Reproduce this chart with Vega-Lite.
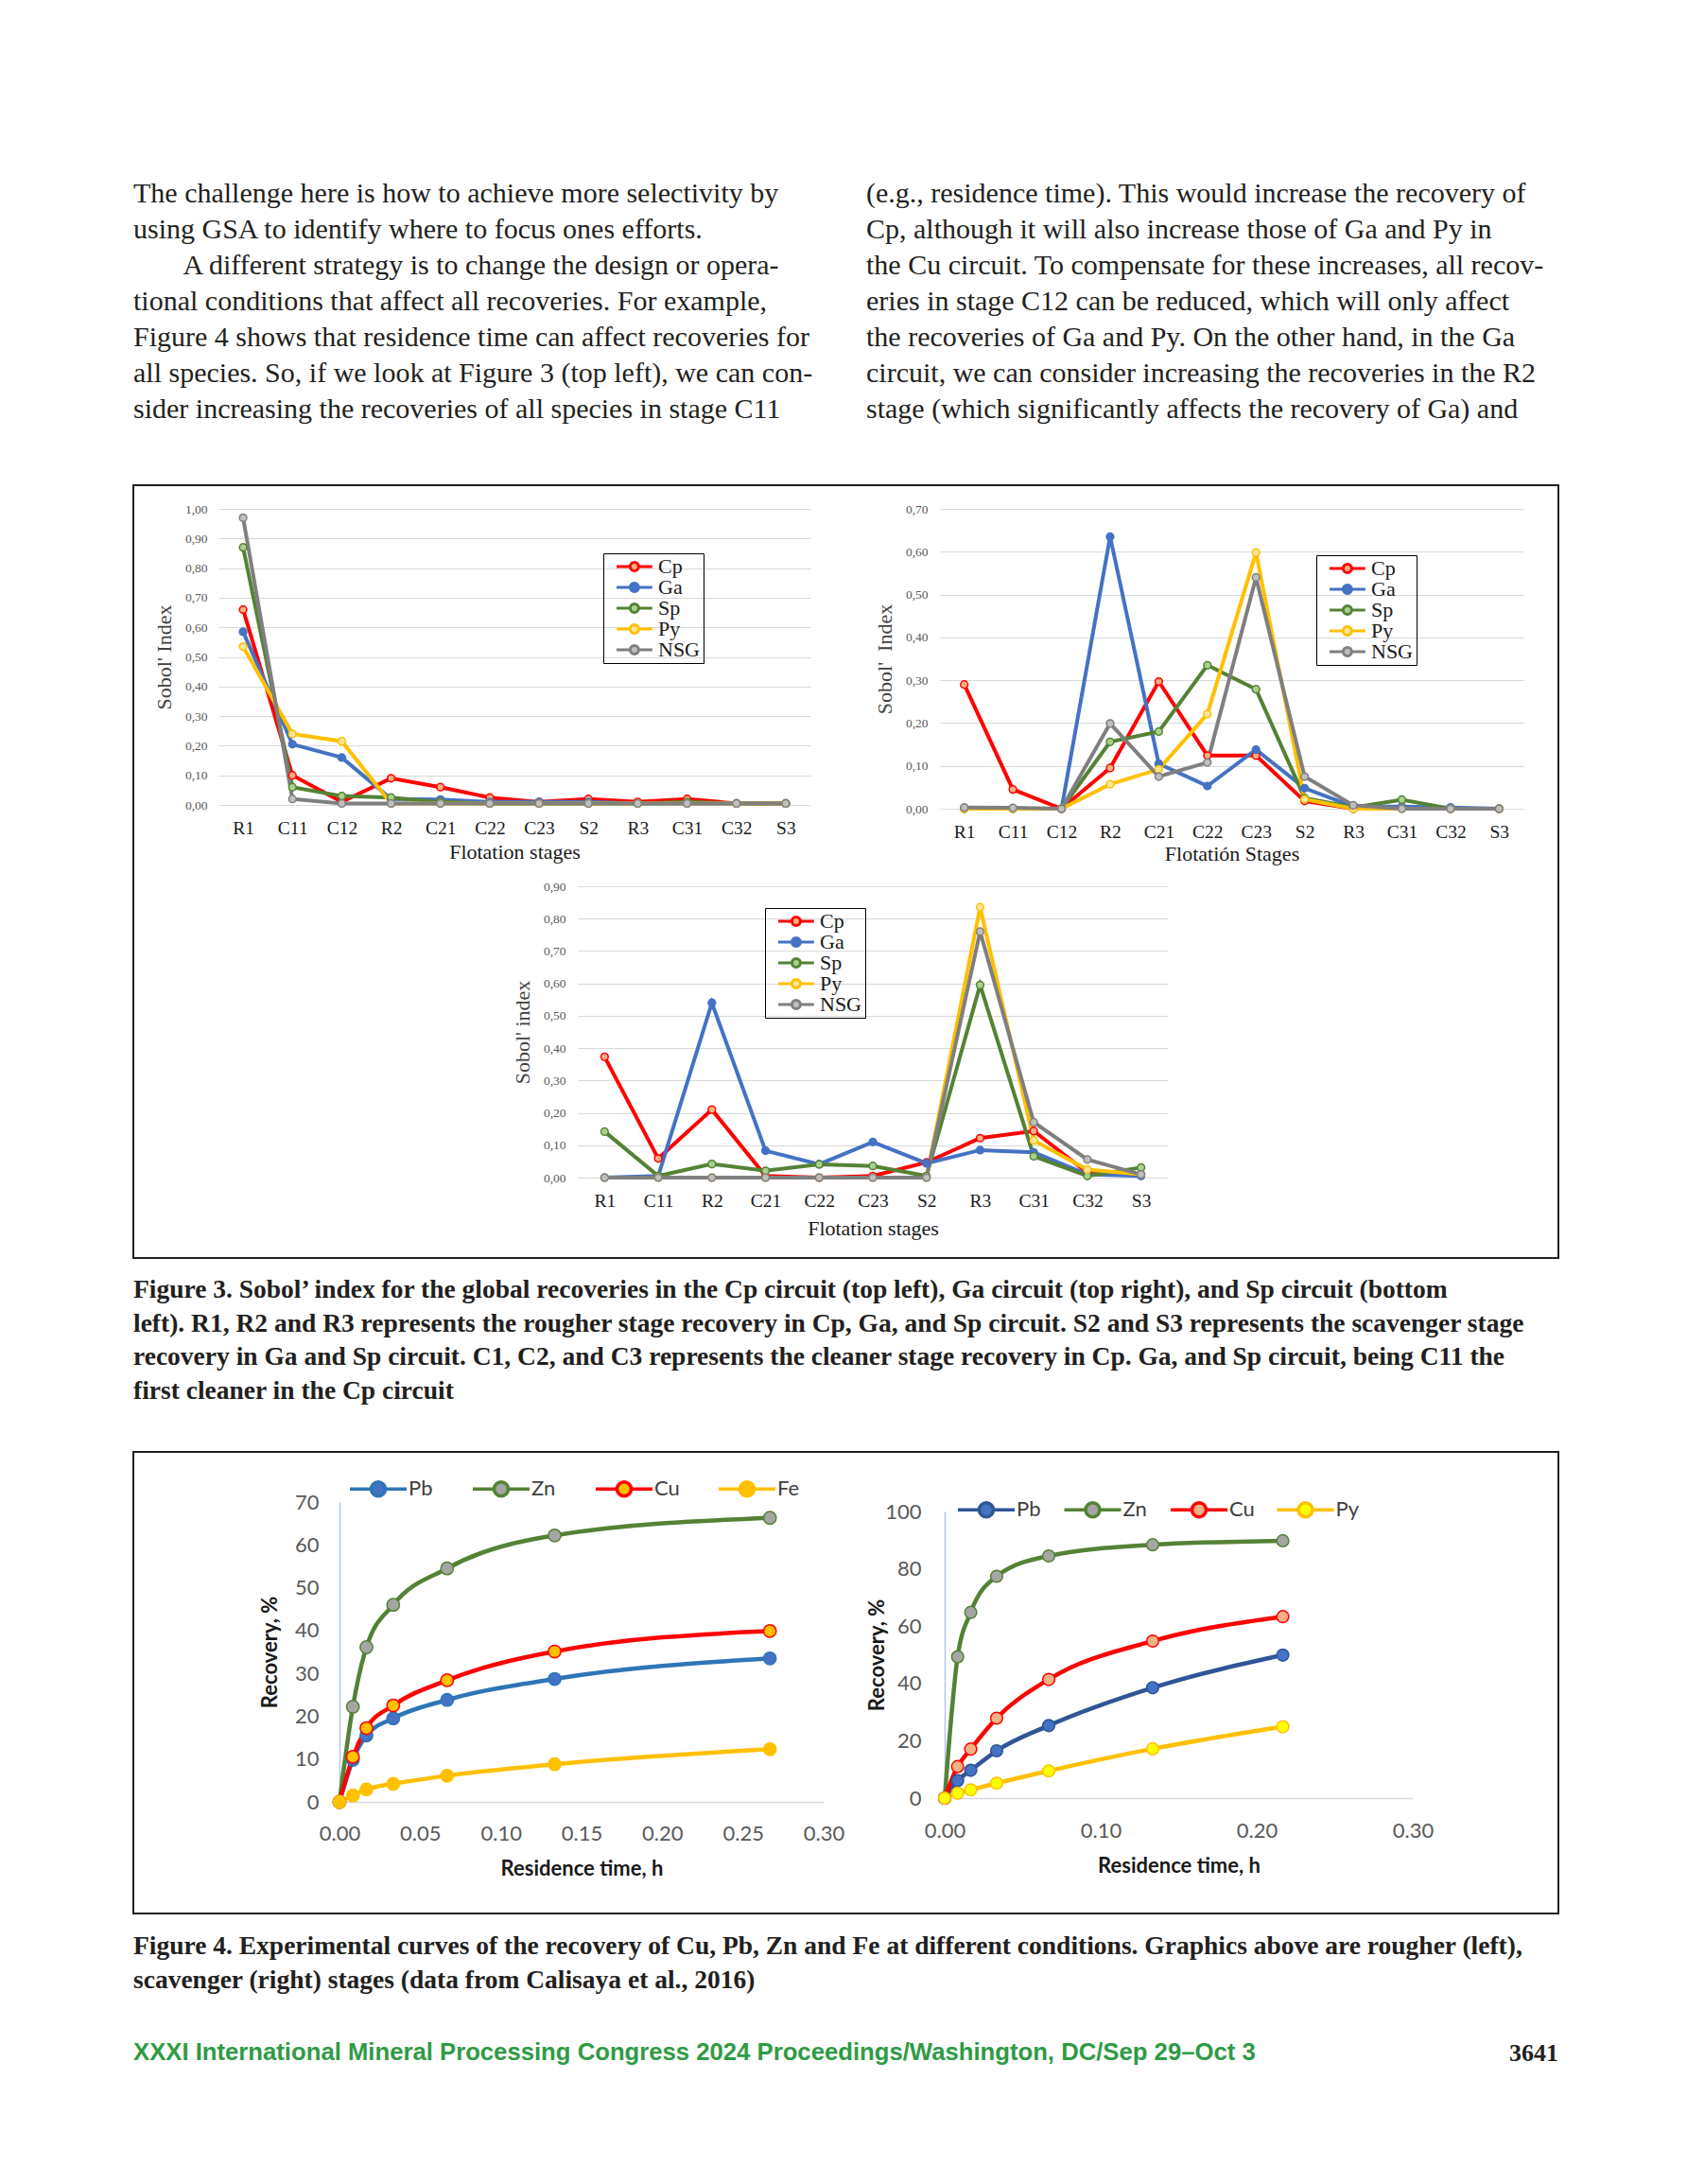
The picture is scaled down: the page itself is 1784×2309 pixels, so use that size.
{
  "$schema": "https://vega.github.io/schema/vega-lite/v6.json",
  "background": "white",
  "padding": {"left": 140, "top": 190, "right": 0, "bottom": 0},
  "spacing": 49,
  "datasets": {
    "tl": [
      {"s":"R1","k":"Cp","v":0.66},{"s":"C11","k":"Cp","v":0.10},{"s":"C12","k":"Cp","v":0.01},{"s":"R2","k":"Cp","v":0.09},{"s":"C21","k":"Cp","v":0.06},{"s":"C22","k":"Cp","v":0.025},{"s":"C23","k":"Cp","v":0.01},{"s":"S2","k":"Cp","v":0.02},{"s":"R3","k":"Cp","v":0.01},{"s":"C31","k":"Cp","v":0.02},{"s":"C32","k":"Cp","v":0.005},{"s":"S3","k":"Cp","v":0.005},
      {"s":"R1","k":"Ga","v":0.585},{"s":"C11","k":"Ga","v":0.205},{"s":"C12","k":"Ga","v":0.16},{"s":"R2","k":"Ga","v":0.02},{"s":"C21","k":"Ga","v":0.018},{"s":"C22","k":"Ga","v":0.01},{"s":"C23","k":"Ga","v":0.01},{"s":"S2","k":"Ga","v":0.01},{"s":"R3","k":"Ga","v":0.005},{"s":"C31","k":"Ga","v":0.005},{"s":"C32","k":"Ga","v":0.005},{"s":"S3","k":"Ga","v":0.005},
      {"s":"R1","k":"Sp","v":0.87},{"s":"C11","k":"Sp","v":0.06},{"s":"C12","k":"Sp","v":0.03},{"s":"R2","k":"Sp","v":0.025},{"s":"C21","k":"Sp","v":0.01},{"s":"C22","k":"Sp","v":0.005},{"s":"C23","k":"Sp","v":0.005},{"s":"S2","k":"Sp","v":0.005},{"s":"R3","k":"Sp","v":0.005},{"s":"C31","k":"Sp","v":0.01},{"s":"C32","k":"Sp","v":0.005},{"s":"S3","k":"Sp","v":0.005},
      {"s":"R1","k":"Py","v":0.535},{"s":"C11","k":"Py","v":0.24},{"s":"C12","k":"Py","v":0.215},{"s":"R2","k":"Py","v":0.005},{"s":"C21","k":"Py","v":0.005},{"s":"C22","k":"Py","v":0.005},{"s":"C23","k":"Py","v":0.005},{"s":"S2","k":"Py","v":0.005},{"s":"R3","k":"Py","v":0.005},{"s":"C31","k":"Py","v":0.005},{"s":"C32","k":"Py","v":0.005},{"s":"S3","k":"Py","v":0.005},
      {"s":"R1","k":"NSG","v":0.97},{"s":"C11","k":"NSG","v":0.02},{"s":"C12","k":"NSG","v":0.005},{"s":"R2","k":"NSG","v":0.005},{"s":"C21","k":"NSG","v":0.005},{"s":"C22","k":"NSG","v":0.005},{"s":"C23","k":"NSG","v":0.005},{"s":"S2","k":"NSG","v":0.005},{"s":"R3","k":"NSG","v":0.005},{"s":"C31","k":"NSG","v":0.005},{"s":"C32","k":"NSG","v":0.005},{"s":"S3","k":"NSG","v":0.005}
    ],
    "tr": [
      {"s":"R1","k":"Cp","v":0.29},{"s":"C11","k":"Cp","v":0.045},{"s":"C12","k":"Cp","v":0.0},{"s":"R2","k":"Cp","v":0.095},{"s":"C21","k":"Cp","v":0.297},{"s":"C22","k":"Cp","v":0.124},{"s":"C23","k":"Cp","v":0.124},{"s":"S2","k":"Cp","v":0.018},{"s":"R3","k":"Cp","v":0.0},{"s":"C31","k":"Cp","v":0.003},{"s":"C32","k":"Cp","v":0.0},{"s":"S3","k":"Cp","v":0.0},
      {"s":"R1","k":"Ga","v":0.0},{"s":"C11","k":"Ga","v":0.0},{"s":"C12","k":"Ga","v":0.0},{"s":"R2","k":"Ga","v":0.635},{"s":"C21","k":"Ga","v":0.105},{"s":"C22","k":"Ga","v":0.053},{"s":"C23","k":"Ga","v":0.138},{"s":"S2","k":"Ga","v":0.048},{"s":"R3","k":"Ga","v":0.005},{"s":"C31","k":"Ga","v":0.005},{"s":"C32","k":"Ga","v":0.003},{"s":"S3","k":"Ga","v":0.0},
      {"s":"R1","k":"Sp","v":0.0},{"s":"C11","k":"Sp","v":0.0},{"s":"C12","k":"Sp","v":0.0},{"s":"R2","k":"Sp","v":0.156},{"s":"C21","k":"Sp","v":0.18},{"s":"C22","k":"Sp","v":0.335},{"s":"C23","k":"Sp","v":0.279},{"s":"S2","k":"Sp","v":0.025},{"s":"R3","k":"Sp","v":0.003},{"s":"C31","k":"Sp","v":0.021},{"s":"C32","k":"Sp","v":0.0},{"s":"S3","k":"Sp","v":0.0},
      {"s":"R1","k":"Py","v":0.0},{"s":"C11","k":"Py","v":0.0},{"s":"C12","k":"Py","v":0.0},{"s":"R2","k":"Py","v":0.057},{"s":"C21","k":"Py","v":0.092},{"s":"C22","k":"Py","v":0.221},{"s":"C23","k":"Py","v":0.598},{"s":"S2","k":"Py","v":0.022},{"s":"R3","k":"Py","v":0.0},{"s":"C31","k":"Py","v":0.0},{"s":"C32","k":"Py","v":0.0},{"s":"S3","k":"Py","v":0.0},
      {"s":"R1","k":"NSG","v":0.003},{"s":"C11","k":"NSG","v":0.002},{"s":"C12","k":"NSG","v":0.0},{"s":"R2","k":"NSG","v":0.199},{"s":"C21","k":"NSG","v":0.075},{"s":"C22","k":"NSG","v":0.108},{"s":"C23","k":"NSG","v":0.54},{"s":"S2","k":"NSG","v":0.075},{"s":"R3","k":"NSG","v":0.008},{"s":"C31","k":"NSG","v":0.0},{"s":"C32","k":"NSG","v":0.0},{"s":"S3","k":"NSG","v":0.0}
    ],
    "bot": [
      {"s":"R1","k":"Cp","v":0.373},{"s":"C11","k":"Cp","v":0.059},{"s":"R2","k":"Cp","v":0.21},{"s":"C21","k":"Cp","v":0.005},{"s":"C22","k":"Cp","v":0.0},{"s":"C23","k":"Cp","v":0.005},{"s":"S2","k":"Cp","v":0.047},{"s":"R3","k":"Cp","v":0.122},{"s":"C31","k":"Cp","v":0.144},{"s":"C32","k":"Cp","v":0.015},{"s":"S3","k":"Cp","v":0.01},
      {"s":"R1","k":"Ga","v":0.0},{"s":"C11","k":"Ga","v":0.005},{"s":"R2","k":"Ga","v":0.54},{"s":"C21","k":"Ga","v":0.083},{"s":"C22","k":"Ga","v":0.041},{"s":"C23","k":"Ga","v":0.11},{"s":"S2","k":"Ga","v":0.044},{"s":"R3","k":"Ga","v":0.085},{"s":"C31","k":"Ga","v":0.078},{"s":"C32","k":"Ga","v":0.01},{"s":"S3","k":"Ga","v":0.005},
      {"s":"R1","k":"Sp","v":0.142},{"s":"C11","k":"Sp","v":0.005},{"s":"R2","k":"Sp","v":0.042},{"s":"C21","k":"Sp","v":0.021},{"s":"C22","k":"Sp","v":0.041},{"s":"C23","k":"Sp","v":0.036},{"s":"S2","k":"Sp","v":0.005},{"s":"R3","k":"Sp","v":0.595},{"s":"C31","k":"Sp","v":0.066},{"s":"C32","k":"Sp","v":0.005},{"s":"S3","k":"Sp","v":0.031},
      {"s":"R1","k":"Py","v":0.0},{"s":"C11","k":"Py","v":0.0},{"s":"R2","k":"Py","v":0.0},{"s":"C21","k":"Py","v":0.0},{"s":"C22","k":"Py","v":0.0},{"s":"C23","k":"Py","v":0.0},{"s":"S2","k":"Py","v":0.0},{"s":"R3","k":"Py","v":0.835},{"s":"C31","k":"Py","v":0.115},{"s":"C32","k":"Py","v":0.025},{"s":"S3","k":"Py","v":0.01},
      {"s":"R1","k":"NSG","v":0.0},{"s":"C11","k":"NSG","v":0.0},{"s":"R2","k":"NSG","v":0.0},{"s":"C21","k":"NSG","v":0.0},{"s":"C22","k":"NSG","v":0.0},{"s":"C23","k":"NSG","v":0.0},{"s":"S2","k":"NSG","v":0.0},{"s":"R3","k":"NSG","v":0.76},{"s":"C31","k":"NSG","v":0.171},{"s":"C32","k":"NSG","v":0.056},{"s":"S3","k":"NSG","v":0.01}
    ],
    "f4l": [
      {"t":0,"k":"Pb","r":0},{"t":0.0083,"k":"Pb","r":9.8},{"t":0.0167,"k":"Pb","r":15.5},{"t":0.0333,"k":"Pb","r":19.5},{"t":0.0667,"k":"Pb","r":23.8},{"t":0.1333,"k":"Pb","r":28.7},{"t":0.2667,"k":"Pb","r":33.5},
      {"t":0,"k":"Zn","r":0},{"t":0.0083,"k":"Zn","r":22.2},{"t":0.0167,"k":"Zn","r":36.1},{"t":0.0333,"k":"Zn","r":46.0},{"t":0.0667,"k":"Zn","r":54.5},{"t":0.1333,"k":"Zn","r":62.2},{"t":0.2667,"k":"Zn","r":66.3},
      {"t":0,"k":"Cu","r":0},{"t":0.0083,"k":"Cu","r":10.5},{"t":0.0167,"k":"Cu","r":17.2},{"t":0.0333,"k":"Cu","r":22.5},{"t":0.0667,"k":"Cu","r":28.4},{"t":0.1333,"k":"Cu","r":35.1},{"t":0.2667,"k":"Cu","r":39.9},
      {"t":0,"k":"Fe","r":0},{"t":0.0083,"k":"Fe","r":1.5},{"t":0.0167,"k":"Fe","r":2.9},{"t":0.0333,"k":"Fe","r":4.2},{"t":0.0667,"k":"Fe","r":6.1},{"t":0.1333,"k":"Fe","r":8.8},{"t":0.2667,"k":"Fe","r":12.3}
    ],
    "f4r": [
      {"t":0,"k":"Pb","r":0},{"t":0.0083,"k":"Pb","r":6.1},{"t":0.0167,"k":"Pb","r":9.7},{"t":0.0333,"k":"Pb","r":16.5},{"t":0.0667,"k":"Pb","r":25.3},{"t":0.1333,"k":"Pb","r":38.5},{"t":0.2167,"k":"Pb","r":49.9},
      {"t":0,"k":"Zn","r":0},{"t":0.0083,"k":"Zn","r":49.3},{"t":0.0167,"k":"Zn","r":64.8},{"t":0.0333,"k":"Zn","r":77.4},{"t":0.0667,"k":"Zn","r":84.5},{"t":0.1333,"k":"Zn","r":88.4},{"t":0.2167,"k":"Zn","r":89.8},
      {"t":0,"k":"Cu","r":0},{"t":0.0083,"k":"Cu","r":11.0},{"t":0.0167,"k":"Cu","r":17.1},{"t":0.0333,"k":"Cu","r":27.9},{"t":0.0667,"k":"Cu","r":41.4},{"t":0.1333,"k":"Cu","r":54.8},{"t":0.2167,"k":"Cu","r":63.3},
      {"t":0,"k":"Py","r":0},{"t":0.0083,"k":"Py","r":1.7},{"t":0.0167,"k":"Py","r":2.9},{"t":0.0333,"k":"Py","r":5.2},{"t":0.0667,"k":"Py","r":9.5},{"t":0.1333,"k":"Py","r":17.2},{"t":0.2167,"k":"Py","r":24.9}
    ]
  },
  "vconcat": [
    {
      "spacing": 45,
      "hconcat": [
        {
          "width": 730, "height": 15,
          "data": {"values": []},
          "mark": "rule",
          "encoding": {},
          "title": {
            "text": [
              "The challenge here is how to achieve more selectivity by",
              "using GSA to identify where to focus ones efforts.",
              "\u200b\u00a0\u00a0\u00a0\u00a0\u00a0\u00a0\u00a0A different strategy is to change the design or opera-",
              "tional conditions that affect all recoveries. For example,",
              "Figure 4 shows that residence time can affect recoveries for",
              "all species. So, if we look at Figure 3 (top left), we can con-",
              "sider increasing the recoveries of all species in stage C11"
            ],
            "anchor": "start", "frame": "group", "orient": "top", "offset": 0,
            "font": "Liberation Serif", "fontSize": 30, "fontWeight": "normal",
            "color": "#231F20", "lineHeight": 38
          }
        },
        {
          "width": 730, "height": 15,
          "data": {"values": []},
          "mark": "rule",
          "encoding": {},
          "title": {
            "text": [
              "(e.g., residence time). This would increase the recovery of",
              "Cp, although it will also increase those of Ga and Py in",
              "the Cu circuit. To compensate for these increases, all recov-",
              "eries in stage C12 can be reduced, which will only affect",
              "the recoveries of Ga and Py. On the other hand, in the Ga",
              "circuit, we can consider increasing the recoveries in the R2",
              "stage (which significantly affects the recovery of Ga) and"
            ],
            "anchor": "start", "frame": "group", "orient": "top", "offset": 0,
            "font": "Liberation Serif", "fontSize": 30, "fontWeight": "normal",
            "color": "#231F20", "lineHeight": 38
          }
        }
      ]
    },
    {
      "width": 1507, "height": 817,
      "view": {"stroke": "#231F20", "strokeWidth": 2},
      "title": {
        "text": [
          "Figure 3. Sobol\u2019 index for the global recoveries in the Cp circuit (top left), Ga circuit (top right), and Sp circuit (bottom",
          "left). R1, R2 and R3 represents the rougher stage recovery in Cp, Ga, and Sp circuit. S2 and S3 represents the scavenger stage",
          "recovery in Ga and Sp circuit. C1, C2, and C3 represents the cleaner stage recovery in Cp. Ga, and Sp circuit, being C11 the",
          "first cleaner in the Cp circuit"
        ],
        "orient": "bottom", "anchor": "start", "frame": "group", "offset": 20, "baseline": "top",
        "font": "Liberation Serif", "fontSize": 27.5, "fontWeight": "bold", "color": "#231F20", "lineHeight": 35.5
      },
      "resolve": {
        "scale": {"x": "independent", "y": "independent", "stroke": "independent", "fill": "independent"},
        "axis": {"x": "independent", "y": "independent"},
        "legend": {"stroke": "independent", "fill": "independent"}
      },
      "layer": [
        {
          "data": {"name": "tl"},
          "encoding": {
            "x": {"field": "s", "type": "ordinal", "sort": ["R1","C11","C12","R2","C21","C22","C23","S2","R3","C31","C32","S3"],
              "scale": {"type": "point", "range": [90, 716], "padding": 0.5},
              "axis": {"orient": "bottom", "offset": -479, "labelAngle": 0, "labelFont": "Liberation Serif", "labelFontSize": 19.5, "labelColor": "#1A1A1A", "labelPadding": 15,
                "title": "Flotation stages", "titleFont": "Liberation Serif", "titleFontSize": 22, "titleFontWeight": "normal", "titleColor": "#1A1A1A", "titlePadding": 6}},
            "y": {"field": "v", "type": "quantitative",
              "scale": {"domain": [0, 1], "range": [338, 25], "nice": false},
              "axis": {"orient": "left", "offset": -90, "values": [0,0.1,0.2,0.3,0.4,0.5,0.6,0.7,0.8,0.9,1.0],
                "labelExpr": "replace(format(datum.value, '.2f'), '.', ',')",
                "labelFont": "Liberation Serif", "labelFontSize": 13.5, "labelColor": "#595959", "labelPadding": 12,
                "grid": true, "gridColor": "#D9D9D9", "gridWidth": 1,
                "title": "Sobol' Index", "titleFont": "Liberation Serif", "titleFontSize": 22, "titleFontWeight": "normal", "titleColor": "#404040", "titlePadding": 10}}
          },
          "layer": [
            {"mark": {"type": "line", "strokeWidth": 4},
             "encoding": {"stroke": {"field": "k", "type": "nominal", "scale": {"domain": ["Cp","Ga","Sp","Py","NSG"], "range": ["#FF0000","#4472C4","#548235","#FFC000","#7F7F7F"]},
               "legend": {"orient": "none", "legendX": 497, "legendY": 72, "title": null, "direction": "vertical", "symbolType": "M0,0H3.2M5.2,0H8.4M5.2,0A1,1,0,1,1,3.2,0A1,1,0,1,1,5.2,0Z", "symbolSize": 81, "symbolStrokeWidth": 3, "labelFont": "Liberation Serif", "labelFontSize": 22, "labelColor": "#1A1A1A", "labelOffset": 33, "rowPadding": 0, "padding": 3, "strokeColor": "#000000"}}}},
            {"mark": {"type": "circle", "size": 60, "strokeWidth": 1.5, "opacity": 1},
             "encoding": {
               "stroke": {"field": "k", "type": "nominal", "scale": {"domain": ["Cp","Ga","Sp","Py","NSG"], "range": ["#FF0000","#4472C4","#548235","#FFC000","#7F7F7F"]},
                 "legend": {"orient": "none", "legendX": 497, "legendY": 72, "title": null, "direction": "vertical", "symbolType": "M0,0H3.2M5.2,0H8.4M5.2,0A1,1,0,1,1,3.2,0A1,1,0,1,1,5.2,0Z", "symbolSize": 81, "symbolStrokeWidth": 3, "labelFont": "Liberation Serif", "labelFontSize": 22, "labelColor": "#1A1A1A", "labelOffset": 33, "rowPadding": 0, "padding": 3, "strokeColor": "#000000"}},
               "fill": {"field": "k", "type": "nominal", "scale": {"domain": ["Cp","Ga","Sp","Py","NSG"], "range": ["#F4B183","#4472C4","#A9D18E","#FFE699","#BFBFBF"]},
                 "legend": {"orient": "none", "legendX": 497, "legendY": 72, "title": null, "direction": "vertical", "symbolType": "M0,0H3.2M5.2,0H8.4M5.2,0A1,1,0,1,1,3.2,0A1,1,0,1,1,5.2,0Z", "symbolSize": 81, "symbolStrokeWidth": 3, "labelFont": "Liberation Serif", "labelFontSize": 22, "labelColor": "#1A1A1A", "labelOffset": 33, "rowPadding": 0, "padding": 3, "strokeColor": "#000000"}}
             }}
          ]
        },
        {
          "data": {"name": "tr"},
          "encoding": {
            "x": {"field": "s", "type": "ordinal", "sort": ["R1","C11","C12","R2","C21","C22","C23","S2","R3","C31","C32","S3"],
              "scale": {"type": "point", "range": [853, 1470], "padding": 0.5},
              "axis": {"orient": "bottom", "offset": -475, "labelAngle": 0, "labelFont": "Liberation Serif", "labelFontSize": 19.5, "labelColor": "#1A1A1A", "labelPadding": 15,
                "title": "Flotati\u00f3n Stages", "titleFont": "Liberation Serif", "titleFontSize": 22, "titleFontWeight": "normal", "titleColor": "#1A1A1A", "titlePadding": 4}},
            "y": {"field": "v", "type": "quantitative",
              "scale": {"domain": [0, 0.7], "range": [342, 25], "nice": false},
              "axis": {"orient": "left", "offset": -853, "values": [0,0.1,0.2,0.3,0.4,0.5,0.6,0.7],
                "labelExpr": "replace(format(datum.value, '.2f'), '.', ',')",
                "labelFont": "Liberation Serif", "labelFontSize": 13.5, "labelColor": "#595959", "labelPadding": 13,
                "grid": true, "gridColor": "#D9D9D9", "gridWidth": 1,
                "title": "Sobol'\u00a0 Index", "titleFont": "Liberation Serif", "titleFontSize": 22, "titleFontWeight": "normal", "titleColor": "#404040", "titlePadding": 10}}
          },
          "layer": [
            {"mark": {"type": "line", "strokeWidth": 4},
             "encoding": {"stroke": {"field": "k", "type": "nominal", "scale": {"domain": ["Cp","Ga","Sp","Py","NSG"], "range": ["#FF0000","#4472C4","#548235","#FFC000","#7F7F7F"]},
               "legend": {"orient": "none", "legendX": 1251, "legendY": 74, "title": null, "direction": "vertical", "symbolType": "M0,0H3.2M5.2,0H8.4M5.2,0A1,1,0,1,1,3.2,0A1,1,0,1,1,5.2,0Z", "symbolSize": 81, "symbolStrokeWidth": 3, "labelFont": "Liberation Serif", "labelFontSize": 22, "labelColor": "#1A1A1A", "labelOffset": 33, "rowPadding": 0, "padding": 3, "strokeColor": "#000000"}}}},
            {"mark": {"type": "circle", "size": 60, "strokeWidth": 1.5, "opacity": 1},
             "encoding": {
               "stroke": {"field": "k", "type": "nominal", "scale": {"domain": ["Cp","Ga","Sp","Py","NSG"], "range": ["#FF0000","#4472C4","#548235","#FFC000","#7F7F7F"]},
                 "legend": {"orient": "none", "legendX": 1251, "legendY": 74, "title": null, "direction": "vertical", "symbolType": "M0,0H3.2M5.2,0H8.4M5.2,0A1,1,0,1,1,3.2,0A1,1,0,1,1,5.2,0Z", "symbolSize": 81, "symbolStrokeWidth": 3, "labelFont": "Liberation Serif", "labelFontSize": 22, "labelColor": "#1A1A1A", "labelOffset": 33, "rowPadding": 0, "padding": 3, "strokeColor": "#000000"}},
               "fill": {"field": "k", "type": "nominal", "scale": {"domain": ["Cp","Ga","Sp","Py","NSG"], "range": ["#F4B183","#4472C4","#A9D18E","#FFE699","#BFBFBF"]},
                 "legend": {"orient": "none", "legendX": 1251, "legendY": 74, "title": null, "direction": "vertical", "symbolType": "M0,0H3.2M5.2,0H8.4M5.2,0A1,1,0,1,1,3.2,0A1,1,0,1,1,5.2,0Z", "symbolSize": 81, "symbolStrokeWidth": 3, "labelFont": "Liberation Serif", "labelFontSize": 22, "labelColor": "#1A1A1A", "labelOffset": 33, "rowPadding": 0, "padding": 3, "strokeColor": "#000000"}}
             }}
          ]
        },
        {
          "data": {"name": "bot"},
          "encoding": {
            "x": {"field": "s", "type": "ordinal", "sort": ["R1","C11","R2","C21","C22","C23","S2","R3","C31","C32","S3"],
              "scale": {"type": "point", "range": [470, 1094], "padding": 0.5},
              "axis": {"orient": "bottom", "offset": -85, "labelAngle": 0, "labelFont": "Liberation Serif", "labelFontSize": 19.5, "labelColor": "#1A1A1A", "labelPadding": 15,
                "title": "Flotation stages", "titleFont": "Liberation Serif", "titleFontSize": 22, "titleFontWeight": "normal", "titleColor": "#1A1A1A", "titlePadding": 10}},
            "y": {"field": "v", "type": "quantitative",
              "scale": {"domain": [0, 0.9], "range": [732, 424], "nice": false},
              "axis": {"orient": "left", "offset": -470, "values": [0,0.1,0.2,0.3,0.4,0.5,0.6,0.7,0.8,0.9],
                "labelExpr": "replace(format(datum.value, '.2f'), '.', ',')",
                "labelFont": "Liberation Serif", "labelFontSize": 13.5, "labelColor": "#595959", "labelPadding": 13,
                "grid": true, "gridColor": "#D9D9D9", "gridWidth": 1,
                "title": "Sobol' index", "titleFont": "Liberation Serif", "titleFontSize": 22, "titleFontWeight": "normal", "titleColor": "#404040", "titlePadding": 10}}
          },
          "layer": [
            {"mark": {"type": "line", "strokeWidth": 4},
             "encoding": {"stroke": {"field": "k", "type": "nominal", "scale": {"domain": ["Cp","Ga","Sp","Py","NSG"], "range": ["#FF0000","#4472C4","#548235","#FFC000","#7F7F7F"]},
               "legend": {"orient": "none", "legendX": 668, "legendY": 447, "title": null, "direction": "vertical", "symbolType": "M0,0H3.2M5.2,0H8.4M5.2,0A1,1,0,1,1,3.2,0A1,1,0,1,1,5.2,0Z", "symbolSize": 81, "symbolStrokeWidth": 3, "labelFont": "Liberation Serif", "labelFontSize": 22, "labelColor": "#1A1A1A", "labelOffset": 33, "rowPadding": 0, "padding": 3, "strokeColor": "#000000"}}}},
            {"mark": {"type": "circle", "size": 60, "strokeWidth": 1.5, "opacity": 1},
             "encoding": {
               "stroke": {"field": "k", "type": "nominal", "scale": {"domain": ["Cp","Ga","Sp","Py","NSG"], "range": ["#FF0000","#4472C4","#548235","#FFC000","#7F7F7F"]},
                 "legend": {"orient": "none", "legendX": 668, "legendY": 447, "title": null, "direction": "vertical", "symbolType": "M0,0H3.2M5.2,0H8.4M5.2,0A1,1,0,1,1,3.2,0A1,1,0,1,1,5.2,0Z", "symbolSize": 81, "symbolStrokeWidth": 3, "labelFont": "Liberation Serif", "labelFontSize": 22, "labelColor": "#1A1A1A", "labelOffset": 33, "rowPadding": 0, "padding": 3, "strokeColor": "#000000"}},
               "fill": {"field": "k", "type": "nominal", "scale": {"domain": ["Cp","Ga","Sp","Py","NSG"], "range": ["#F4B183","#4472C4","#A9D18E","#FFE699","#BFBFBF"]},
                 "legend": {"orient": "none", "legendX": 668, "legendY": 447, "title": null, "direction": "vertical", "symbolType": "M0,0H3.2M5.2,0H8.4M5.2,0A1,1,0,1,1,3.2,0A1,1,0,1,1,5.2,0Z", "symbolSize": 81, "symbolStrokeWidth": 3, "labelFont": "Liberation Serif", "labelFontSize": 22, "labelColor": "#1A1A1A", "labelOffset": 33, "rowPadding": 0, "padding": 3, "strokeColor": "#000000"}}
             }}
          ]
        }
      ]
    },
    {
      "width": 1507, "height": 488,
      "view": {"stroke": "#231F20", "strokeWidth": 2},
      "title": {
        "text": [
          "Figure 4. Experimental curves of the recovery of Cu, Pb, Zn and Fe at different conditions. Graphics above are rougher (left),",
          "scavenger (right) stages (data from Calisaya et al., 2016)"
        ],
        "orient": "bottom", "anchor": "start", "frame": "group", "offset": 21, "baseline": "top",
        "font": "Liberation Serif", "fontSize": 27.5, "fontWeight": "bold", "color": "#231F20", "lineHeight": 35.5
      },
      "resolve": {
        "scale": {"x": "independent", "y": "independent", "stroke": "independent", "fill": "independent"},
        "axis": {"x": "independent", "y": "independent"},
        "legend": {"stroke": "independent", "fill": "independent"}
      },
      "layer": [
        {
          "data": {"name": "f4l"},
          "encoding": {
            "x": {"field": "t", "type": "quantitative",
              "scale": {"domain": [0, 0.3], "range": [218, 730], "nice": false, "zero": false},
              "axis": {"orient": "bottom", "offset": -118, "values": [0,0.05,0.1,0.15,0.2,0.25,0.3], "format": ".2f",
                "domain": true, "domainColor": "#D9D9D9", "domainWidth": 1.5,
                "labelFont": "Lato", "labelFontSize": 22, "labelColor": "#595959", "labelPadding": 23,
                "title": "Residence time, h", "titleFont": "Lato", "titleFontSize": 22, "titleFontWeight": "bold", "titleColor": "#1A1A1A", "titlePadding": 16}},
            "y": {"field": "r", "type": "quantitative",
              "scale": {"domain": [0, 70], "range": [370, 53], "nice": false},
              "axis": {"orient": "left", "offset": -218, "values": [0,10,20,30,40,50,60,70],
                "domain": true, "domainColor": "#B4C7E7", "domainWidth": 1.5,
                "labelFont": "Lato", "labelFontSize": 22, "labelColor": "#595959", "labelPadding": 22,
                "title": "Recovery, %", "titleFont": "Lato", "titleFontSize": 22, "titleFontWeight": "bold", "titleColor": "#1A1A1A", "titlePadding": 14}}
          },
          "layer": [
            {"mark": {"type": "line", "strokeWidth": 4.5, "interpolate": "monotone"},
             "encoding": {"stroke": {"field": "k", "type": "nominal", "scale": {"domain": ["Pb","Zn","Cu","Fe"], "range": ["#2E75B6","#548235","#FF0000","#FFC000"]},
               "legend": {"orient": "none", "legendX": 218, "legendY": 28, "title": null, "direction": "horizontal", "gridAlign": "all", "columnPadding": 30, "symbolType": "M0,0H3M5,0H8M5,0A1,1,0,1,1,3,0A1,1,0,1,1,5,0Z", "symbolSize": 225, "symbolStrokeWidth": 3.5, "labelFont": "Lato", "labelFontSize": 22, "labelColor": "#404040", "labelOffset": 51, "padding": 0}}}},
            {"mark": {"type": "circle", "size": 177, "strokeWidth": 1.5, "opacity": 1},
             "encoding": {
               "stroke": {"field": "k", "type": "nominal", "scale": {"domain": ["Pb","Zn","Cu","Fe"], "range": ["#2E75B6","#548235","#FF0000","#FFC000"]},
                 "legend": {"orient": "none", "legendX": 218, "legendY": 28, "title": null, "direction": "horizontal", "gridAlign": "all", "columnPadding": 30, "symbolType": "M0,0H3M5,0H8M5,0A1,1,0,1,1,3,0A1,1,0,1,1,5,0Z", "symbolSize": 225, "symbolStrokeWidth": 3.5, "labelFont": "Lato", "labelFontSize": 22, "labelColor": "#404040", "labelOffset": 51, "padding": 0}},
               "fill": {"field": "k", "type": "nominal", "scale": {"domain": ["Pb","Zn","Cu","Fe"], "range": ["#4472C4","#A5A5A5","#FFC000","#FFC000"]},
                 "legend": {"orient": "none", "legendX": 218, "legendY": 28, "title": null, "direction": "horizontal", "gridAlign": "all", "columnPadding": 30, "symbolType": "M0,0H3M5,0H8M5,0A1,1,0,1,1,3,0A1,1,0,1,1,5,0Z", "symbolSize": 225, "symbolStrokeWidth": 3.5, "labelFont": "Lato", "labelFontSize": 22, "labelColor": "#404040", "labelOffset": 51, "padding": 0}}
             }}
          ]
        },
        {
          "data": {"name": "f4r"},
          "encoding": {
            "x": {"field": "t", "type": "quantitative",
              "scale": {"domain": [0, 0.3], "range": [858, 1353], "nice": false, "zero": false},
              "axis": {"orient": "bottom", "offset": -122, "values": [0,0.1,0.2,0.3], "format": ".2f",
                "domain": true, "domainColor": "#D9D9D9", "domainWidth": 1.5,
                "labelFont": "Lato", "labelFontSize": 22, "labelColor": "#595959", "labelPadding": 24,
                "title": "Residence time, h", "titleFont": "Lato", "titleFontSize": 22, "titleFontWeight": "bold", "titleColor": "#1A1A1A", "titlePadding": 16}},
            "y": {"field": "r", "type": "quantitative",
              "scale": {"domain": [0, 100], "range": [366, 63], "nice": false},
              "axis": {"orient": "left", "offset": -858, "values": [0,20,40,60,80,100],
                "domain": true, "domainColor": "#B4C7E7", "domainWidth": 1.5,
                "labelFont": "Lato", "labelFontSize": 22, "labelColor": "#595959", "labelPadding": 25,
                "title": "Recovery, %", "titleFont": "Lato", "titleFontSize": 22, "titleFontWeight": "bold", "titleColor": "#1A1A1A", "titlePadding": -4}}
          },
          "layer": [
            {"mark": {"type": "line", "strokeWidth": 4.5, "interpolate": "monotone"},
             "encoding": {"stroke": {"field": "k", "type": "nominal", "scale": {"domain": ["Pb","Zn","Cu","Py"], "range": ["#2F5597","#548235","#FF0000","#FFC000"]},
               "legend": {"orient": "none", "legendX": 861, "legendY": 50, "title": null, "direction": "horizontal", "gridAlign": "all", "columnPadding": 12.5, "symbolType": "M0,0H3M5,0H8M5,0A1,1,0,1,1,3,0A1,1,0,1,1,5,0Z", "symbolSize": 225, "symbolStrokeWidth": 3.5, "labelFont": "Lato", "labelFontSize": 22, "labelColor": "#404040", "labelOffset": 51, "padding": 0}}}},
            {"mark": {"type": "circle", "size": 160, "strokeWidth": 1.5, "opacity": 1},
             "encoding": {
               "stroke": {"field": "k", "type": "nominal", "scale": {"domain": ["Pb","Zn","Cu","Py"], "range": ["#2F5597","#548235","#FF0000","#FFC000"]},
                 "legend": {"orient": "none", "legendX": 861, "legendY": 50, "title": null, "direction": "horizontal", "gridAlign": "all", "columnPadding": 12.5, "symbolType": "M0,0H3M5,0H8M5,0A1,1,0,1,1,3,0A1,1,0,1,1,5,0Z", "symbolSize": 225, "symbolStrokeWidth": 3.5, "labelFont": "Lato", "labelFontSize": 22, "labelColor": "#404040", "labelOffset": 51, "padding": 0}},
               "fill": {"field": "k", "type": "nominal", "scale": {"domain": ["Pb","Zn","Cu","Py"], "range": ["#4472C4","#A5A5A5","#F4B183","#FFFF00"]},
                 "legend": {"orient": "none", "legendX": 861, "legendY": 50, "title": null, "direction": "horizontal", "gridAlign": "all", "columnPadding": 12.5, "symbolType": "M0,0H3M5,0H8M5,0A1,1,0,1,1,3,0A1,1,0,1,1,5,0Z", "symbolSize": 225, "symbolStrokeWidth": 3.5, "labelFont": "Lato", "labelFontSize": 22, "labelColor": "#404040", "labelOffset": 51, "padding": 0}}
             }}
          ]
        }
      ]
    },
    {
      "spacing": 0,
      "hconcat": [
        {
          "width": 1400, "height": 1,
          "data": {"values": []},
          "mark": "rule",
          "encoding": {},
          "title": {"text": "XXXI International Mineral Processing Congress 2024 Proceedings/Washington, DC/Sep 29\u2013Oct 3",
            "anchor": "start", "frame": "group", "orient": "top", "offset": 0,
            "font": "Liberation Sans", "fontSize": 25.7, "fontWeight": "bold", "color": "#2F9B45"}
        },
        {
          "width": 107, "height": 1,
          "data": {"values": []},
          "mark": "rule",
          "encoding": {},
          "title": {"text": "3641",
            "anchor": "end", "frame": "group", "orient": "top", "offset": 0,
            "font": "Liberation Serif", "fontSize": 26, "fontWeight": "bold", "color": "#231F20"}
        }
      ]
    }
  ],
  "config": {
    "view": {"stroke": null},
    "font": "Liberation Serif",
    "axis": {"ticks": false, "domain": false, "grid": false, "labelFlush": false, "labelOverlap": false}
  }
}
